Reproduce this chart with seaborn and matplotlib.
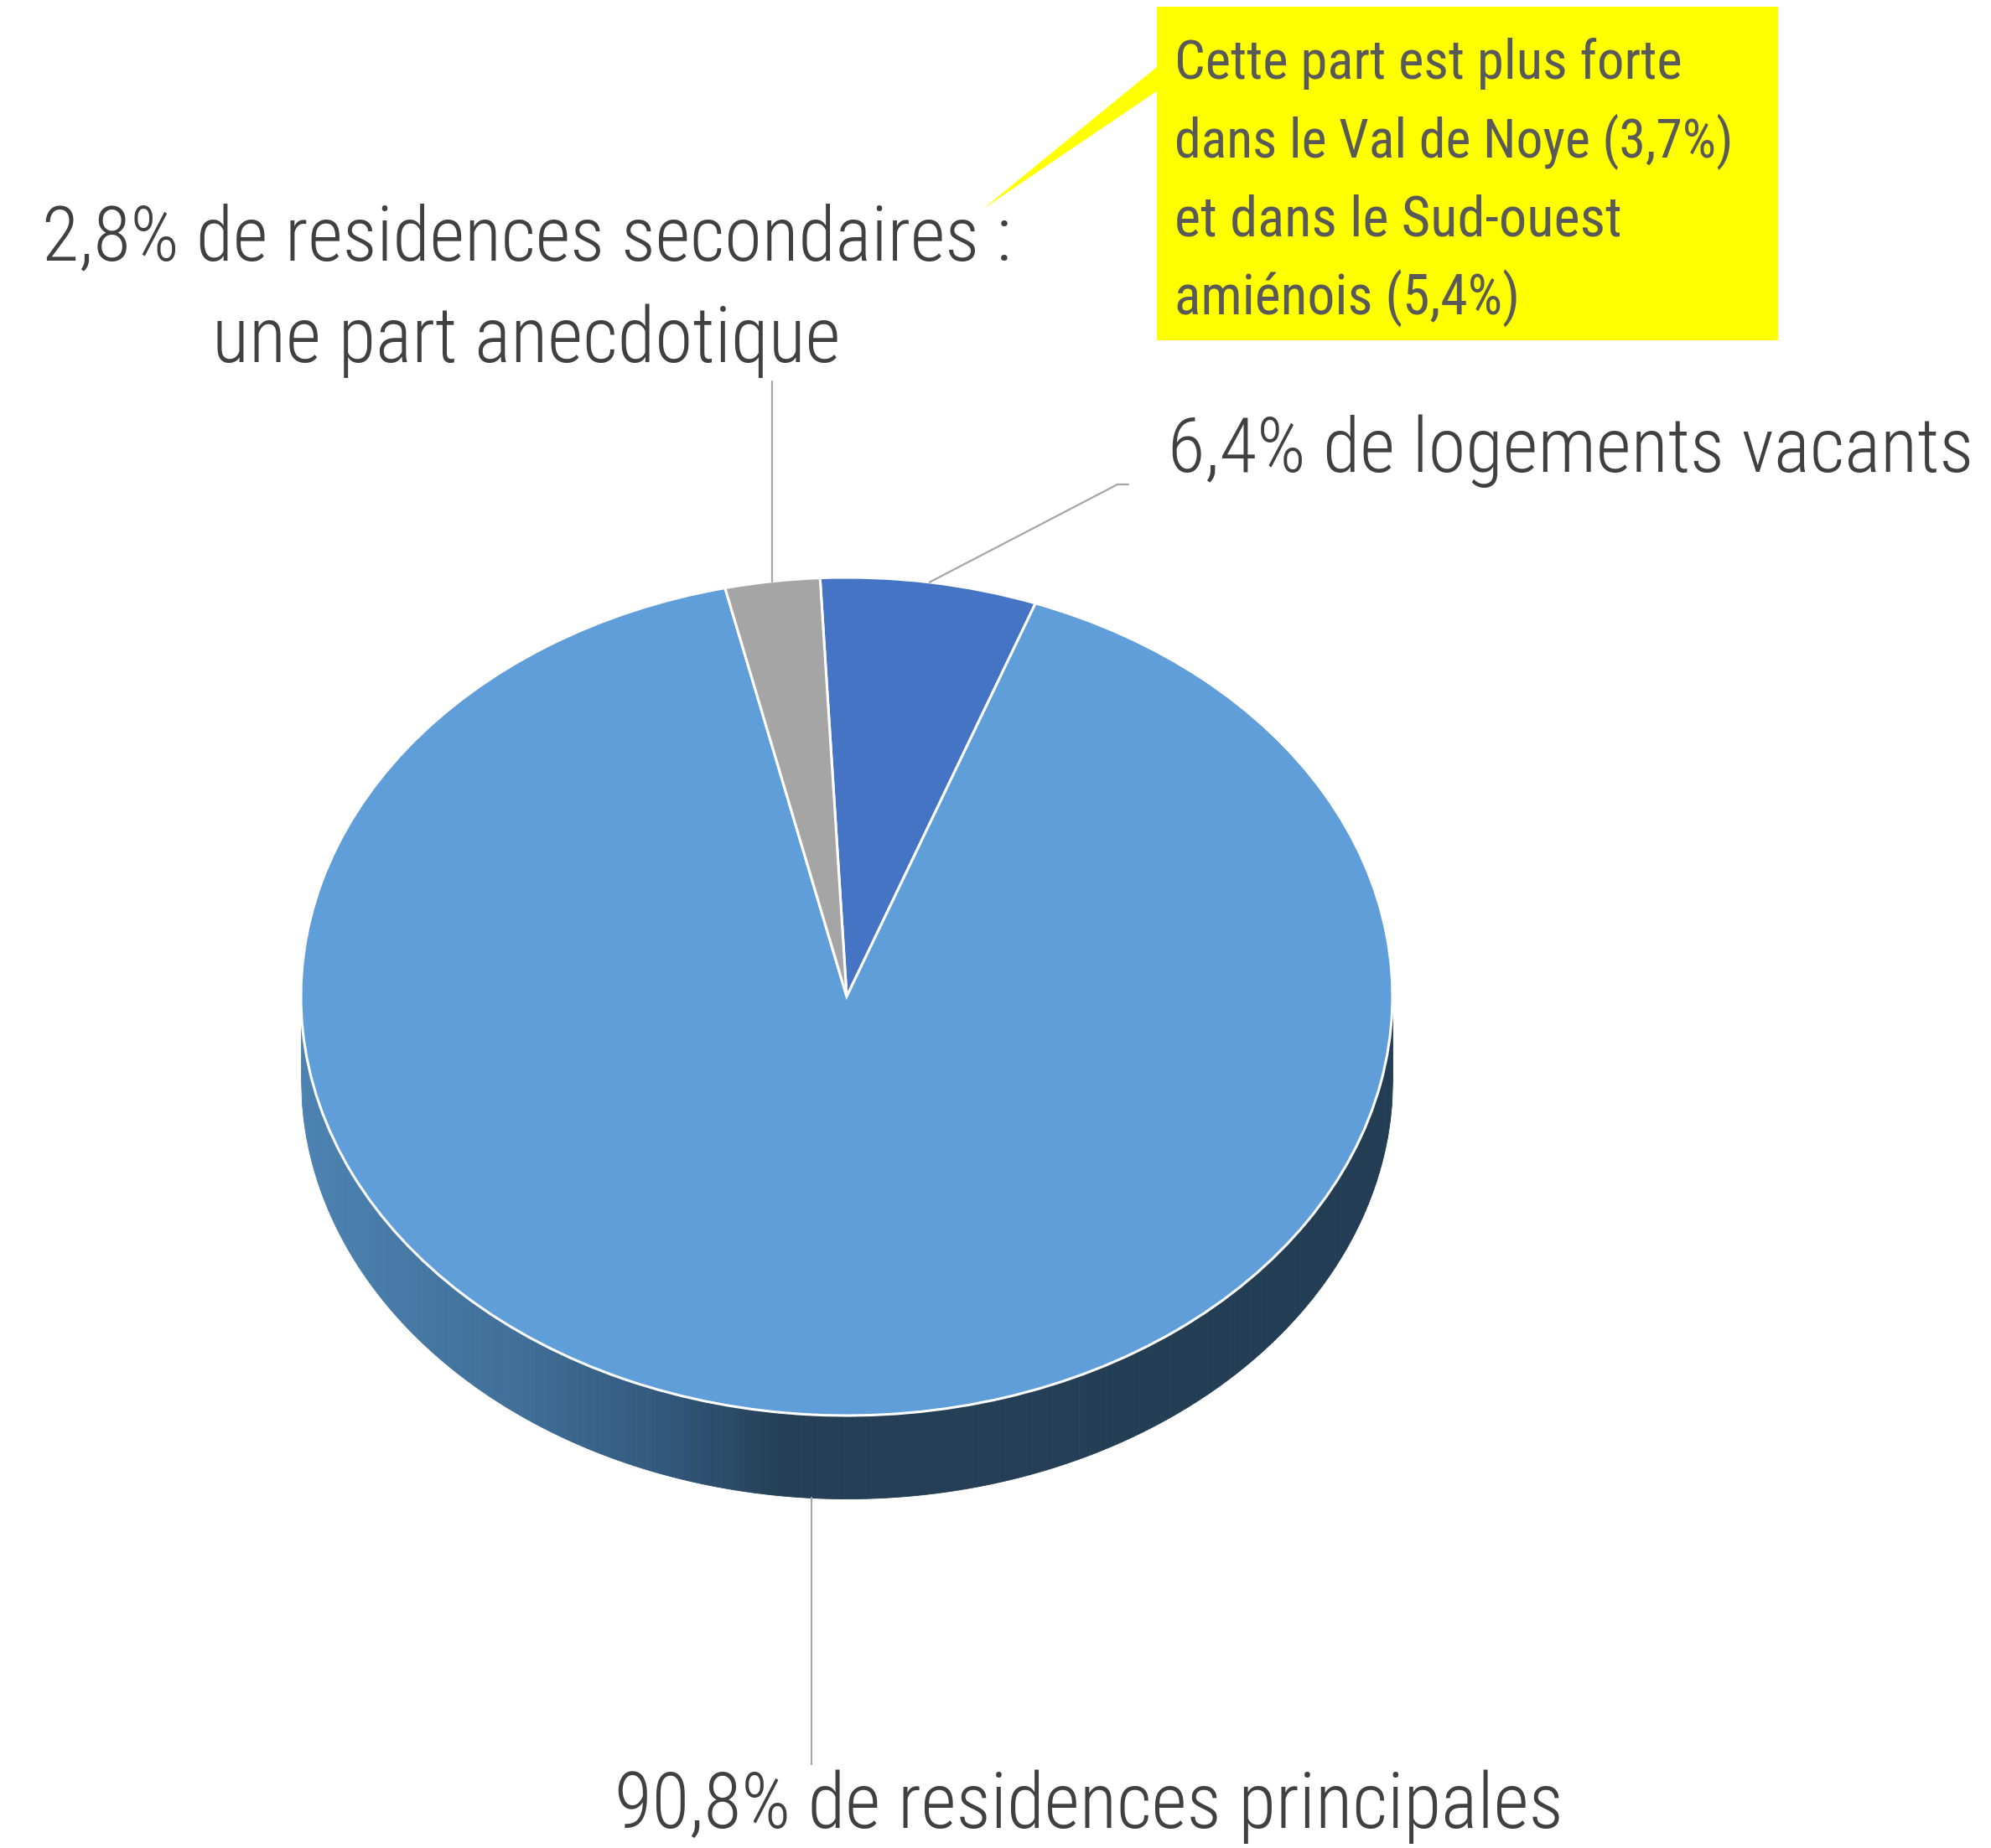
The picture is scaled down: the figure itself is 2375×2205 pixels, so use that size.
import numpy as np
import seaborn as sns
import matplotlib
import matplotlib.pyplot as plt
from matplotlib import font_manager
from matplotlib.colors import LinearSegmentedColormap
from matplotlib.patches import Polygon, Rectangle

# -------------------------------------------------
# DATA
# -------------------------------------------------

values = [6.4, 90.8, 2.8]
slice_colors = ["#4674C5", "#5F9ED8", "#A5A5A5"]
labels = [
    "6,4% de logements vacants",
    "90,8% de residences principales",
    "2,8% de residences secondaires :\nune part anecdotique",
]
callout_lines = [
    "Cette part est plus forte",
    "dans le Val de Noye (3,7%)",
    "et dans le Sud-ouest",
    "amiénois (5,4%)",
]

# -------------------------------------------------
# LAYOUT (pixels)
# -------------------------------------------------

W, H = 2375, 2205
cx, cy = 1010, 1189      # pie centre
rx, ry = 651, 500        # ellipse radii of the top face
depth = 99               # thickness of the pie
start = 92.8

sns.set_theme(style="white")

installed = {f.name for f in font_manager.fontManager.ttflist}


def pick(*names):
    for n in names:
        if n in installed:
            return n
    return "DejaVu Sans"


label_font = pick("Roboto Condensed", "Liberation Sans Narrow", "Open Sans", "Roboto")
box_font = pick("Roboto Condensed", "Liberation Sans Narrow", "Roboto")
plt.rcParams["font.family"] = [label_font, "DejaVu Sans"]

fig = plt.figure(figsize=(W / 100, H / 100), dpi=100)
fig.patch.set_facecolor("white")

# pie axes: stretched so the circle becomes an ellipse
d = depth / ry
ax_pie = fig.add_axes([(cx - rx) / W, 1 - (cy + ry + depth) / H,
                       2 * rx / W, (2 * ry + depth) / H])
ax_pie.set_zorder(1)

# side wall with a left-to-right shading
side_cmap = LinearSegmentedColormap.from_list(
    "side", [(0, "#4c82b1"), (0.2, "#3f6e98"), (0.33, "#32587c"),
             (0.44, "#243f55"), (1, "#233d54")])
xs = np.linspace(-1, 1, 401)
for x0, x1 in zip(xs[:-1], xs[1:]):
    seg = np.linspace(x0, x1, 4)
    top = -np.sqrt(np.clip(1 - seg ** 2, 0, None))
    c = side_cmap((x0 + 1) / 2)
    ax_pie.fill_between(seg, top, top - d, color=c, lw=0.6, ec=c)

wedges, _ = ax_pie.pie(
    values, colors=slice_colors, startangle=start, counterclock=False,
    radius=1, wedgeprops=dict(edgecolor="white", linewidth=2.2))
ax_pie.set_aspect("auto")
ax_pie.set_xlim(-1, 1)
ax_pie.set_ylim(-1 - d, 1)
ax_pie.axis("off")

# overlay axes in pixel coordinates for texts and leader lines
ax = fig.add_axes([0, 0, 1, 1])
ax.set_zorder(2)
ax.set_facecolor("none")
ax.set_xlim(0, W)
ax.set_ylim(H, 0)
ax.axis("off")


def rim(theta, down=0):
    t = np.deg2rad(theta)
    return cx + rx * np.cos(t), cy - ry * np.sin(t) + down


mids = [(w.theta1 + w.theta2) / 2 for w in wedges]
line_kw = dict(color="#a6a6a6", lw=1.6)

# vacants
x0, y0 = rim(mids[0])
ax.plot([x0, 1333, 1346], [y0, 578, 578], **line_kw)
# principales (from the bottom of the side)
x0, y0 = rim(mids[1], depth)
ax.plot([x0, x0], [y0, 2105], **line_kw)
# secondaires
x0, y0 = rim(mids[2])
ax.plot([x0, x0], [y0, 455], **line_kw)

fig.canvas.draw()
renderer = fig.canvas.get_renderer()


def fit_text(x, y, s, width, ha, va="baseline", size=70, **kw):
    t = ax.text(x, y, s, ha=ha, va=va, fontsize=size, **kw)
    w = t.get_window_extent(renderer).width
    t.set_fontsize(size * width / w)
    return t


lab_kw = dict(color="#404040", fontweight="light")
fit_text(1393, 563, labels[0], 962, "left", **lab_kw)
fit_text(1299, 2181, labels[1], 1132, "center", **lab_kw)
l1, l2 = labels[2].split("\n")
fit_text(628, 310, l1, 1157, "center", **lab_kw)
fit_text(628, 432, l2, 750, "center", **lab_kw)

# yellow callout
ax.add_patch(Rectangle((1380, 8), 741, 398, color="#FFFF00", lw=0))
ax.add_patch(Polygon([[1381, 79], [1381, 108], [1173, 249]], color="#FFFF00", lw=0))
for i, s in enumerate(callout_lines):
    fit_text(1401, 94 + i * 94, s, [606, 667, 534, 413][i], "left",
             color="#595959", fontweight="normal", family=[box_font, "DejaVu Sans"])

fig.savefig("out.png", dpi=100, facecolor="white")
